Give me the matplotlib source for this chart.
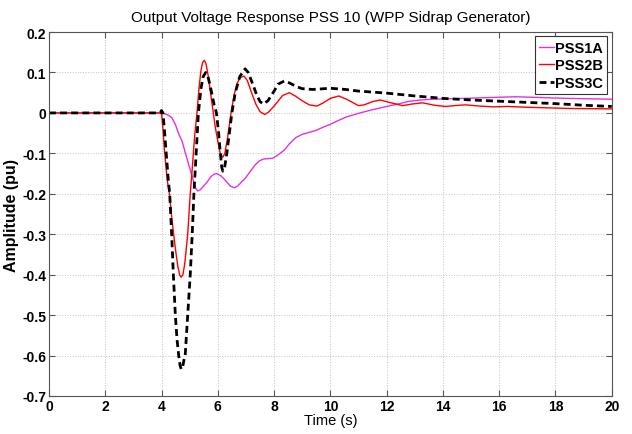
import matplotlib
matplotlib.use('Agg')
import matplotlib.pyplot as plt
from matplotlib import font_manager

names = {f.name for f in font_manager.fontManager.ttflist}
narrow = 'Liberation Sans Narrow' if 'Liberation Sans Narrow' in names else 'Liberation Sans'
plt.rcParams['font.family'] = [narrow, 'DejaVu Sans']

# PSS1A (magenta)
t_1a = [0, 4.0, 4.2, 4.37, 4.5, 4.6, 4.73, 4.85, 5.0, 5.14, 5.22, 5.29, 5.38, 5.5, 5.61,
        5.75, 5.88, 5.96, 6.1, 6.22, 6.33, 6.45, 6.59, 6.72, 6.85, 6.97, 7.15, 7.32, 7.47,
        7.62, 7.8, 7.95, 8.14, 8.36, 8.55, 8.77, 9.0, 9.2, 9.5, 9.75, 10.0, 10.3, 10.57,
        11.05, 11.5, 12.0, 12.4, 12.81, 13.2, 13.64, 14.2, 14.8, 15.6, 16.6, 17.5, 18.4,
        19.2, 20.0]
v_1a = [0, 0, -0.004, -0.012, -0.03, -0.05, -0.07, -0.1, -0.136, -0.17, -0.187, -0.193,
        -0.19, -0.18, -0.172, -0.158, -0.151, -0.15, -0.155, -0.163, -0.172, -0.181, -0.185,
        -0.18, -0.17, -0.162, -0.145, -0.129, -0.119, -0.114, -0.113, -0.112, -0.104, -0.092,
        -0.076, -0.061, -0.053, -0.049, -0.043, -0.035, -0.028, -0.018, -0.01, 0.0, 0.008,
        0.016, 0.022, 0.029, 0.032, 0.034, 0.035, 0.036, 0.038, 0.04, 0.038, 0.036, 0.035,
        0.034]

# PSS2B (red)
t_2b = [0, 4.0, 4.05, 4.1, 4.2, 4.28, 4.35, 4.43, 4.5, 4.58, 4.65, 4.7, 4.76, 4.82, 4.88,
        4.93, 4.98, 5.02, 5.06, 5.12, 5.18, 5.26, 5.33, 5.4, 5.46, 5.52, 5.58, 5.65, 5.72,
        5.8, 5.91, 6.0, 6.08, 6.17, 6.25, 6.35, 6.47, 6.58, 6.7, 6.8, 6.93, 7.05, 7.2, 7.35,
        7.5, 7.67, 7.8, 8.0, 8.14, 8.3, 8.54, 8.75, 9.0, 9.25, 9.52, 9.75, 10.0, 10.3, 10.6,
        11.0, 11.2, 11.5, 11.77, 12.1, 12.57, 12.9, 13.28, 13.7, 14.1, 14.4, 14.8, 15.3,
        15.8, 16.3, 17.0, 18.5, 20.0]
v_2b = [0, 0, -0.04, -0.09, -0.165, -0.2, -0.25, -0.3, -0.34, -0.38, -0.402, -0.406, -0.4,
        -0.375, -0.335, -0.3, -0.245, -0.2, -0.166, -0.11, -0.055, 0.0, 0.06, 0.105, 0.125,
        0.13, 0.122, 0.095, 0.06, 0.02, -0.035, -0.07, -0.098, -0.11, -0.1, -0.06, 0.0,
        0.045, 0.075, 0.088, 0.091, 0.08, 0.05, 0.022, 0.003, -0.004, 0.002, 0.017, 0.029,
        0.043, 0.05, 0.042, 0.03, 0.02, 0.017, 0.025, 0.036, 0.042, 0.033, 0.018, 0.02,
        0.028, 0.032, 0.026, 0.018, 0.022, 0.025, 0.019, 0.016, 0.018, 0.02, 0.017, 0.015,
        0.016, 0.014, 0.011, 0.01]

# PSS3C (black dashed)
t_3c = [0, 3.95, 4.0, 4.05, 4.1, 4.2, 4.24, 4.29, 4.36, 4.42, 4.49, 4.55, 4.61, 4.66, 4.7,
        4.75, 4.8, 4.84, 4.93, 5.02, 5.09, 5.15, 5.23, 5.31, 5.4, 5.48, 5.57, 5.65, 5.75,
        5.87, 5.95, 6.03, 6.09, 6.14, 6.18, 6.24, 6.32, 6.41, 6.5, 6.62, 6.78, 6.97, 7.08,
        7.22, 7.38, 7.5, 7.62, 7.78, 8.0, 8.14, 8.36, 8.55, 8.8, 9.0, 9.37, 10.0, 10.55,
        11.0, 12.0, 13.0, 14.0, 15.0, 16.0, 17.0, 18.0, 19.0, 20.0]
v_3c = [0, 0, 0.006, 0.0, -0.04, -0.13, -0.166, -0.2, -0.3, -0.4, -0.5, -0.56, -0.6, -0.625,
        -0.634, -0.628, -0.61, -0.6, -0.5, -0.4, -0.3, -0.2, -0.1, 0.0, 0.06, 0.09, 0.1,
        0.09, 0.06, 0.02, 0.0, -0.05, -0.1, -0.135, -0.144, -0.135, -0.1, -0.05, 0.0, 0.05,
        0.09, 0.109, 0.1, 0.075, 0.045, 0.028, 0.022, 0.03, 0.054, 0.071, 0.079, 0.074,
        0.065, 0.06, 0.058, 0.061, 0.058, 0.054, 0.049, 0.042, 0.036, 0.032, 0.029, 0.026,
        0.023, 0.019, 0.016]

xticks = list(range(0, 21, 2))
yticks = [0.2, 0.1, 0, -0.1, -0.2, -0.3, -0.4, -0.5, -0.6, -0.7]
ytick_labels = ['0.2', '0.1', '0', '-0.1', '-0.2', '-0.3', '-0.4', '-0.5', '-0.6', '-0.7']

fig = plt.figure(figsize=(6.32, 4.35), dpi=100)
ax = fig.add_axes([0.0775, 0.0874, 0.8905, 0.8366])

ax.plot(t_1a, v_1a, color='#e033e0', lw=1.0, label='PSS1A')
ax.plot(t_2b, v_2b, color='#ff0000', lw=1.0, label='PSS2B')
ax.plot(t_3c, v_3c, color='black', lw=2.0, ls=(0, (2.5, 1.5)), label='PSS3C')

ax.set_xlim(0, 20)
ax.set_ylim(-0.7, 0.2)
ax.set_xticks(xticks)
ax.set_yticks(yticks)
ax.set_yticklabels(ytick_labels)
ax.grid(True, color='#c4c4c4', ls=':', lw=0.7)
ax.tick_params(direction='in', top=True, right=True, length=4, width=0.8,
               color='#555555', labelsize=10, pad=2)
for lab in ax.get_xticklabels() + ax.get_yticklabels():
    lab.set_fontweight('bold')
for sp in ax.spines.values():
    sp.set_color('#555555')
    sp.set_linewidth(0.8)

ax.set_title('Output Voltage Response PSS 10 (WPP Sidrap Generator)', fontsize=11, pad=8)
ax.set_xlabel('Time (s)', fontsize=10.5, labelpad=0)
ax.set_ylabel('Amplitude (pu)', fontsize=11.5, fontweight='bold', labelpad=2)

leg = ax.legend(loc='upper right', handlelength=1.0, handletextpad=0.1,
                borderpad=0.3, labelspacing=0.25, fancybox=False, framealpha=1,
                borderaxespad=0.3, prop={'weight': 'bold', 'size': 10.5})
leg.get_frame().set_edgecolor('#333333')
leg.get_frame().set_linewidth(0.8)

fig.savefig('out.png', dpi=100)
